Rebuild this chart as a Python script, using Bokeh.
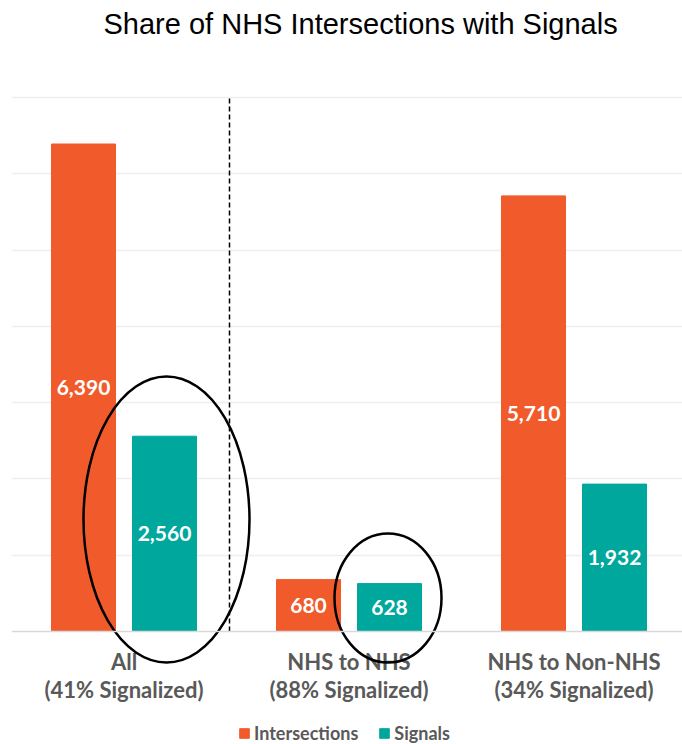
import numpy as np
from bokeh.plotting import figure
from bokeh.models import Range1d, FixedTicker, Span, Legend, LegendItem, ColumnDataSource
from bokeh.core.properties import value
from bokeh.embed import file_html
from bokeh.resources import INLINE

# ---- data ----
categories = ["All", "NHS to NHS", "NHS to Non-NHS"]
signalized_pct = [41, 88, 34]
intersections = [6390, 680, 5710]
signals = [2560, 628, 1932]
grid_ticks = [1000, 2000, 3000, 4000, 5000, 6000, 7000]

# ---- styling / layout ----
ORANGE = "#F15A2B"
TEAL = "#00A79D"
GREY = "#595959"
LABEL_FONT = "Lato"
TITLE_FONT = "Liberation Sans Narrow, Arial Narrow, Liberation Sans, sans-serif"

W, H = 682, 744
LEFT = 11
PX_PER_CAT = 225.0
PX_PER_1000 = 76.29
BASE_PX = 631
TOP_PX = 44  # frame top (below title panel)

x_end = (W - LEFT) / PX_PER_CAT
y_top = (BASE_PX - TOP_PX) / PX_PER_1000 * 1000
y_bot = -(H - BASE_PX) / PX_PER_1000 * 1000

bar_w = 64 / PX_PER_CAT
offset = 40.5 / PX_PER_CAT

xc = np.arange(len(categories)) + 0.5
src = ColumnDataSource(dict(
    xi=xc - offset, xs=xc + offset,
    inter=intersections, sig=signals,
    inter_mid=[v / 2 for v in intersections], sig_mid=[v / 2 for v in signals],
    inter_lbl=[f"{v:,}" for v in intersections], sig_lbl=[f"{v:,}" for v in signals],
))
cat_src = ColumnDataSource(dict(
    x=xc, name=categories, pct=[f"({v}% Signalized)" for v in signalized_pct],
))

p = figure(width=W, height=H, output_backend="svg", toolbar_location=None,
           title="Share of NHS Intersections with Signals",
           x_axis_location=None, y_axis_location=None,
           x_range=Range1d(0, x_end), y_range=Range1d(y_bot, y_top),
           min_border_left=LEFT, min_border_right=0, min_border_top=0, min_border_bottom=0)
p.outline_line_color = None
p.background_fill_color = "white"
p.title.text_font = TITLE_FONT
p.title.text_font_size = "29px"
p.title.text_font_style = "normal"
p.title.text_color = "black"
p.title.align = "left"
p.title.offset = 92

p.xgrid.visible = False
p.ygrid.ticker = FixedTicker(ticks=grid_ticks)
p.ygrid.grid_line_color = "#eeeeee"
p.ygrid.grid_line_width = 1.5

p.add_layout(Span(location=0, dimension="width", line_color="#d9d9d9", line_width=1.5))

r_int = p.vbar(x="xi", top="inter", width=bar_w, source=src, color=ORANGE)
r_sig = p.vbar(x="xs", top="sig", width=bar_w, source=src, color=TEAL)

for xcol, ycol, tcol in (("xi", "inter_mid", "inter_lbl"), ("xs", "sig_mid", "sig_lbl")):
    p.text(x=xcol, y=ycol, text=tcol, source=src, text_color="white",
           text_font=value(LABEL_FONT), text_font_style="bold", text_font_size="21px",
           text_align="center", text_baseline="middle")

# category labels (two lines)
line1_y = -(661 - BASE_PX) / PX_PER_1000 * 1000
line2_y = -(689 - BASE_PX) / PX_PER_1000 * 1000
for tcol, ypos in (("name", line1_y), ("pct", line2_y)):
    p.text(x="x", y=ypos, text=tcol, source=cat_src, text_color=GREY,
           text_font=value(LABEL_FONT), text_font_style="bold", text_font_size="22px",
           text_align="center", text_baseline="middle")

# divider between "All" and the breakdown
div_x = (229 - LEFT) / PX_PER_CAT
p.segment(x0=[div_x], y0=[0], x1=[div_x], y1=[grid_ticks[-1]],
          line_color="black", line_width=1.5, line_dash="5 3")

# highlight ellipses
p.ellipse(x=[(166 - LEFT) / PX_PER_CAT], y=[(BASE_PX - 519) / PX_PER_1000 * 1000],
          width=[166 / PX_PER_CAT], height=[286 / PX_PER_1000 * 1000],
          fill_color=None, line_color="black", line_width=2.5)
p.ellipse(x=[(387.5 - LEFT) / PX_PER_CAT], y=[(BASE_PX - 597.5) / PX_PER_1000 * 1000],
          width=[107 / PX_PER_CAT], height=[129 / PX_PER_1000 * 1000],
          fill_color=None, line_color="black", line_width=2.5)

legend = Legend(items=[LegendItem(label="Intersections", renderers=[r_int]),
                       LegendItem(label="Signals", renderers=[r_sig])],
                orientation="horizontal", location=(227, 0),
                border_line_color=None, background_fill_alpha=0,
                label_text_font=LABEL_FONT, label_text_font_style="bold",
                label_text_font_size="18px", label_text_color=GREY,
                glyph_width=12, glyph_height=12, padding=0, margin=0,
                spacing=20, label_standoff=4)
p.add_layout(legend)

open("out.html", "w").write(file_html(p, INLINE))
